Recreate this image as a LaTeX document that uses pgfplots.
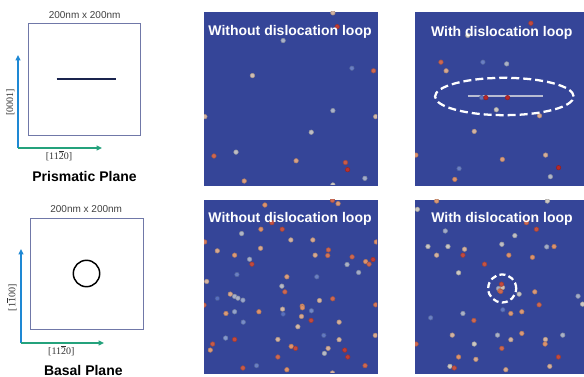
\documentclass[border=0pt]{standalone}
\usepackage{pgfplots}
\pgfplotsset{compat=1.18}
\usepackage{pgfplotstable}
\usetikzlibrary{arrows.meta}
\usepackage{fontspec}
\setmainfont{Liberation Sans}
\newfontfamily\idxfont{Liberation Serif}

\definecolor{bgblue}{RGB}{53,69,152}
\definecolor{framecol}{RGB}{112,120,168}
\definecolor{navyline}{RGB}{26,36,78}
\definecolor{arrblue}{RGB}{30,136,212}
\definecolor{arrgreen}{RGB}{36,162,124}
\definecolor{loopgrey}{RGB}{184,188,210}

\pgfplotsset{
  colormap={cw}{rgb255(0)=(66,90,182) rgb255(1)=(132,152,206) rgb255(2)=(204,200,196)
                rgb255(3)=(220,146,110) rgb255(4)=(182,40,42)},
  panel/.style={
    scale only axis, anchor=north west,
    width=129.75pt, height=129.75pt,
    xmin=0, xmax=200, ymin=0, ymax=200,
    axis background/.style={fill=bgblue},
    axis line style={bgblue}, ticks=none,
    clip marker paths=true,
    colormap name=cw, point meta min=0, point meta max=1,
  },
  defects/.style={
    scatter, only marks, mark=*, mark size=1.7pt,
    scatter src=explicit,
  },
  schematic/.style={
    scale only axis, anchor=north west,
    xmin=0, xmax=200, ymin=0, ymax=200, ticks=none,
    axis line style={framecol, line width=0.6pt},
  },
}

% defect positions (nm) and local strain colour value
\pgfplotstableread{
x y c
149 199 0.60
154 183 0.95
91.5 167 0.38
56 126.5 0.55
171 135 0.15
196 132 0.85
149 86 0.38
1 79 0.60
198.5 79 0.58
124 61 0.45
11.5 33.5 0.85
37 38 0.45
106.5 28 0.68
163.5 26 0.88
166 17.7 0.98
186 7.7 0.35
46.5 4.6 0.70
149 0 0.50
}\prisNo

\pgfplotstableread{
x y c
134 187 0.92
61 173 0.50
30 142 0.85
36 132 0.65
78.5 142 0.15
106 140 0.38
77 101 0.10
82 101 1.00
107 101 1.00
94 87 0.50
144 80 0.65
68.5 62 0.60
1 34.6 0.75
101 29.6 0.70
151 34.6 0.62
51 19 0.15
46 6.5 0.75
166 20 1.00
156.5 9.6 0.40
}\prisLoop

\pgfplotstableread{
x y c
148.5 199.6 0.85
155 195.8 0.72
70.4 194.2 0.75
78.5 173.8 0.90
65.8 166.2 0.75
90.4 166.2 0.90
43.5 161.2 0.40
0.8 151.5 0.80
100.4 153.8 0.60
125.8 153.8 0.65
199.2 151.5 0.75
65.4 144.2 0.65
15.4 141.2 0.65
143.8 142.3 0.85
35.4 136.2 0.72
128.5 136.2 0.65
143.1 135.8 0.82
171.2 134.2 0.85
195.4 131.2 0.95
186.9 128.8 0.75
190.8 125.8 0.85
52.7 131.5 0.35
55.4 125.8 0.92
165.4 125.4 0.38
178.8 116.2 0.35
38.1 113.8 0.15
130.4 111.2 0.15
95.8 111.2 0.70
3.1 105.8 0.60
90 100.4 0.42
93.5 93.8 0.85
30.4 91.2 0.65
35.4 88.5 0.38
39.2 86.5 0.38
45 84.2 0.32
15.4 86.2 0.08
148.8 85.8 0.85
133.5 83.8 0.60
113.5 77.3 0.75
113.8 75.4 0.75
0 78.5 0.85
198.5 78.8 0.82
25.4 68.8 0.72
35.4 70.8 0.30
63.5 70.8 0.75
90.8 73.8 0.58
91.5 68.1 0.08
124.2 71.9 0.18
112.7 65.4 0.65
123.8 60.8 0.92
45.4 58.8 0.20
156.2 58.8 0.62
108.5 53.5 0.58
138.5 43.5 0.12
25 40.4 0.25
35.4 38.8 0.92
85.4 38.8 0.60
156.2 38.5 0.60
198 43.5 0.65
10 33.5 0.88
100.8 30.8 0.75
105.8 28.5 0.92
143.5 28.5 0.62
7.3 26.5 0.72
162.7 26.5 0.95
139.2 22.7 0.42
166.2 18.5 0.95
85.4 18.5 0.85
186.2 8.5 0.85
45 5.8 0.88
60.8 8.5 0.15
95.8 3.8 0.75
148.5 0 0.60
}\basNo

\pgfplotstableread{
x y c
2.7 189.2 0.50
25 198.8 0.72
153 198.8 0.50
128.8 173.8 0.85
140.4 166.2 0.90
35 164.2 0.35
115.4 158.8 0.45
15 146.2 0.48
38.1 146.2 0.48
57.3 143.1 0.60
100.4 148.8 0.45
152.3 145.8 0.35
160.8 146.2 0.75
25 136.2 0.60
55.4 136.2 0.92
108.5 136.2 0.75
135.8 133.8 0.75
80.4 125.8 0.90
50.4 115.8 0.50
96.5 97.7 0.35
101.2 98.8 0.55
100 102.7 0.92
98.1 95 0.78
99.2 94.2 0.85
120.4 91.2 0.48
138.5 93.8 0.72
188.5 88.8 0.35
193.8 79.6 0.50
143.5 78.8 0.85
101.5 73.1 0.12
55.4 68.8 0.38
110.8 68.8 0.72
123.5 70.8 0.72
18.1 63.8 0.15
68.1 60.8 0.85
1.2 33.5 0.85
43.1 43.8 0.60
68.5 33.5 0.50
95.4 43.8 0.38
110.8 38.5 0.60
123.5 45.8 0.72
150.8 38.8 0.60
150.4 33.5 0.75
170.8 43.8 0.38
100.4 28.5 0.85
50.4 18.5 0.75
70.4 15.8 0.65
165.8 18.5 0.92
40.4 7.7 0.50
45.4 5.8 0.90
105 3.8 0.65
155.8 7.7 0.62
}\basLoop

\begin{document}
\begin{tikzpicture}
\useasboundingbox (0,0) rectangle (438pt,282.75pt);

% ---------- prismatic plane sketch ----------
\begin{axis}[schematic, at={(21pt,265.5pt)}, width=84pt, height=84pt]
  \addplot[navyline, line width=1.5pt] coordinates {(51,100) (157,100)};
\end{axis}
\draw[arrblue, line width=1.1pt, -{Triangle[length=4pt,width=3.5pt]}] (13.5pt,171.75pt) -- (13.5pt,241.5pt);
\draw[arrgreen, line width=1.1pt, -{Triangle[length=4pt,width=3.5pt]}] (13.5pt,171.75pt) -- (76.5pt,171.75pt);
\node[anchor=base, font=\fontsize{7.5}{9}\selectfont, text=black!75] at (63.5pt,269pt) {200nm x 200nm};
\node[anchor=base, font=\idxfont\fontsize{7.5}{9}\selectfont, text=black!80] at (44.25pt,162.75pt) {[11$\overline{\mbox{2}}$0]};
\node[rotate=90, font=\idxfont\fontsize{7.5}{9}\selectfont, text=black!80] at (7.8pt,205.9pt) {[0001]};
\node[anchor=base, font=\bfseries\fontsize{10.5}{12}\selectfont] at (63.4pt,146.5pt) {Prismatic Plane};

% ---------- basal plane sketch ----------
\begin{axis}[schematic, at={(22.5pt,119.25pt)}, width=84.75pt, height=83.25pt]
  \addplot[only marks, mark=o, mark size=9.9pt, mark options={black, line width=1.1pt}] coordinates {(100,100)};
\end{axis}
\draw[arrblue, line width=1.1pt, -{Triangle[length=4pt,width=3.5pt]}] (15.75pt,25.5pt) -- (15.75pt,96pt);
\draw[arrgreen, line width=1.1pt, -{Triangle[length=4pt,width=3.5pt]}] (15.75pt,25.5pt) -- (78pt,25.5pt);
\node[anchor=base, font=\fontsize{7.5}{9}\selectfont, text=black!75] at (64.65pt,123.2pt) {200nm x 200nm};
\node[anchor=base, font=\idxfont\fontsize{7.5}{9}\selectfont, text=black!80] at (46pt,16.5pt) {[11$\overline{\mbox{2}}$0]};
\node[rotate=90, font=\idxfont\fontsize{7.5}{9}\selectfont, text=black!80] at (8.5pt,59.25pt) {[1$\overline{\mbox{1}}$00]};
\node[anchor=base, font=\bfseries\fontsize{10.5}{12}\selectfont] at (62.5pt,1pt) {Basal Plane};

% ---------- defect maps ----------
\begin{axis}[panel, at={(153pt,273.75pt)}]
  \addplot[defects] table[meta=c] {\prisNo};
\end{axis}

\begin{axis}[panel, at={(311.25pt,273.75pt)}, width=126.75pt, xmax=195.4]
  \addplot[loopgrey, line width=1pt] coordinates {(60.8,102.7) (148,102.7)};
  \addplot[defects] table[meta=c] {\prisLoop};
  \draw[white, line width=1.7pt, dash pattern=on 6pt off 3pt] (axis cs:103.3,102.3) ellipse [x radius=52pt, y radius=14pt];
\end{axis}

\begin{axis}[panel, at={(153pt,132.75pt)}]
  \addplot[defects] table[meta=c] {\basNo};
\end{axis}

\begin{axis}[panel, at={(311.25pt,132.75pt)}, width=126.75pt, xmax=195.4]
  \addplot[defects] table[meta=c] {\basLoop};
  \draw[white, line width=1.7pt, dash pattern=on 4.5pt off 2.5pt] (axis cs:100.8,97.7) circle [radius=10.5pt];
\end{axis}

% panel titles
\tikzset{ptitle/.style={anchor=base, text=white, font=\bfseries\fontsize{10.5}{12}\selectfont}}
\node[ptitle] at (217.5pt,255.75pt) {Without dislocation loop};
\node[ptitle] at (376.3pt,255.2pt) {With dislocation loop};
\node[ptitle] at (217.5pt,115.7pt) {Without dislocation loop};
\node[ptitle] at (376.5pt,116pt) {With dislocation loop};
\end{tikzpicture}
\end{document}
